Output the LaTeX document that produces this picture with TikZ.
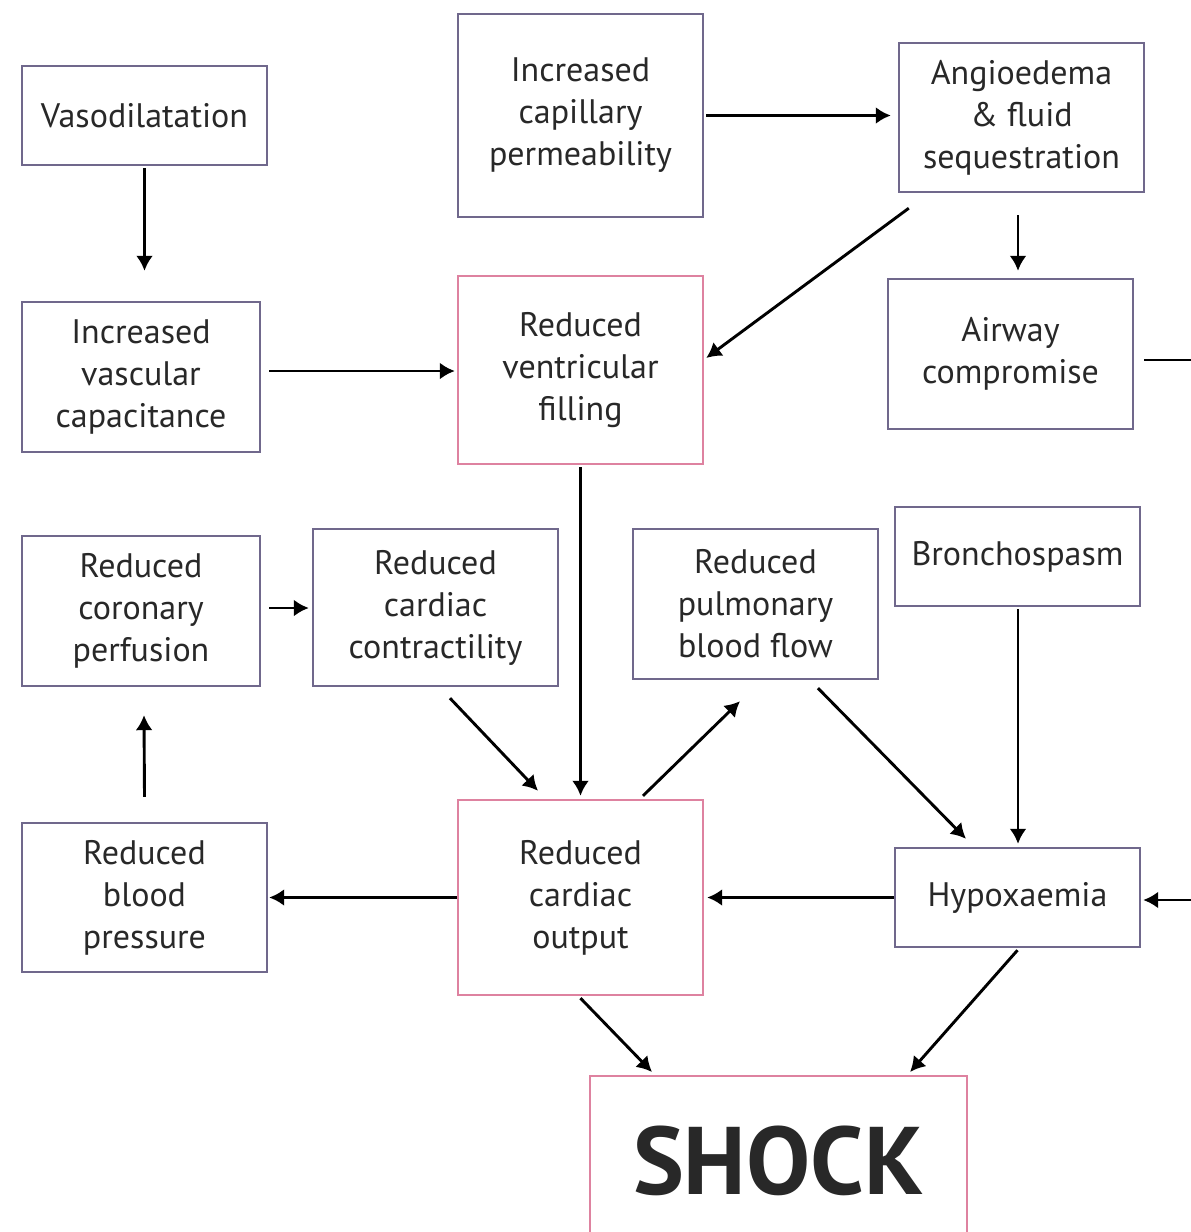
\documentclass[tikz,border=0pt]{standalone}
\usepackage{fontspec}
\setmainfont{PT Sans}
\usetikzlibrary{arrows.meta}
\definecolor{boxline}{RGB}{112,104,140}
\definecolor{pinkline}{RGB}{222,130,160}
\definecolor{inkgray}{RGB}{40,40,40}

\begin{document}
\begin{tikzpicture}[x=0.5pt,y=-0.5pt]
\useasboundingbox (0,0) rectangle (1190,1232);

\tikzstyle{Box}=[draw=boxline, line width=1.2pt, fill=white, align=center, inner sep=0pt, text=inkgray, font=\fontsize{17}{21}\selectfont]
\tikzstyle{PinkBox}=[Box, draw=pinkline]
\tikzstyle{Arrow}=[-{Latex[length=7.5pt,width=8.5pt]}, line width=1.45pt]

\node[Box, minimum width=122.5pt, minimum height=49.5pt] (vaso) at (144.5,115.5) {Vasodilatation};
\node[Box, minimum width=122.5pt, minimum height=101.5pt] (capil) at (580.5,115.5) {Increased\\capillary\\permeability};
\node[Box, minimum width=122.5pt, minimum height=74.5pt] (angio) at (1021.5,117.5) {Angioedema\\\& fluid\\sequestration};

\node[Box, minimum width=119pt, minimum height=75pt] (capac) at (141,377) {Increased\\vascular\\capacitance};
\node[PinkBox, minimum width=122.5pt, minimum height=94pt] (filling) at (580.5,370) {Reduced\\ventricular\\filling};
\node[Box, minimum width=122.5pt, minimum height=75pt] (airway) at (1010.5,354) {Airway\\compromise};

\node[Box, minimum width=119pt, minimum height=75pt] (coron) at (141,611) {Reduced\\coronary\\perfusion};
\node[Box, minimum width=122.5pt, minimum height=78.5pt] (contr) at (435.5,607.5) {Reduced\\cardiac\\contractility};
\node[Box, minimum width=122.5pt, minimum height=75pt] (pulm) at (755.5,604) {Reduced\\pulmonary\\blood flow};
\node[Box, minimum width=122.5pt, minimum height=49.5pt] (broncho) at (1017.5,556.5) {Bronchospasm};

\node[Box, minimum width=122.5pt, minimum height=74.5pt] (bp) at (144.5,897.5) {Reduced\\blood\\pressure};
\node[PinkBox, minimum width=122.5pt, minimum height=97.5pt] (output) at (580.5,897.5) {Reduced\\cardiac\\output};
\node[Box, minimum width=122.5pt, minimum height=49.5pt] (hypox) at (1017.5,897.5) {Hypoxaemia};

\node[PinkBox, minimum width=188.5pt, minimum height=85pt, anchor=north, font=\fontsize{48}{50}\selectfont\bfseries] (shock) at (778.5,1075) {SHOCK};

\draw[Arrow] ([shift={(0,2)}]vaso.south) -- ([shift={(3.5,-30)}]capac.north);
\draw[Arrow] ([shift={(2,0)}]capil.east) -- ([shift={(-7,-2)}]angio.west);
\draw[Arrow] ([shift={(11,15)}]angio.south west) -- ([shift={(2,-12)}]filling.east);
\draw[Arrow] ([shift={(-3.5,22)}]angio.south) -- ([shift={(7.5,-7)}]airway.north);
\draw[Arrow] ([shift={(8,-6)}]capac.east) -- ([shift={(-2,1)}]filling.west);
\draw[Arrow] ([shift={(0,2)}]filling.south) -- ([shift={(0,-3)}]output.north);
\draw[Arrow] ([shift={(8,-3)}]coron.east) -- ([shift={(-3,0.5)}]contr.west);
\draw[Arrow] ([shift={(14.5,11)}]contr.south) -- ([shift={(-42.5,-8)}]output.north);
\draw[Arrow] ([shift={(62.5,-3)}]output.north) -- ([shift={(-15.5,21)}]pulm.south);
\draw[Arrow] ([shift={(62.5,8)}]pulm.south) -- ([shift={(-51.5,-8)}]hypox.north);
\draw[Arrow] ([shift={(0.5,2)}]broncho.south) -- ([shift={(0.5,-3)}]hypox.north);
\draw[Arrow] (hypox.west) -- ([shift={(3,0)}]output.east);
\draw[Arrow] (output.west) -- ([shift={(1,0)}]bp.east);
\draw[Arrow] ([shift={(0,-25)}]bp.north) -- ([shift={(3,28)}]coron.south);
\draw[Arrow] ([shift={(0,2)}]output.south) -- ([shift={(-126.5,-3)}]shock.north);
\draw[Arrow] ([shift={(0,2)}]hypox.south) -- ([shift={(131.5,-3)}]shock.north);
\draw[Arrow] ([shift={(10,6)}]airway.east) -- ++(80,0) |- ([shift={(2,2.5)}]hypox.east);

\end{tikzpicture}
\end{document}
